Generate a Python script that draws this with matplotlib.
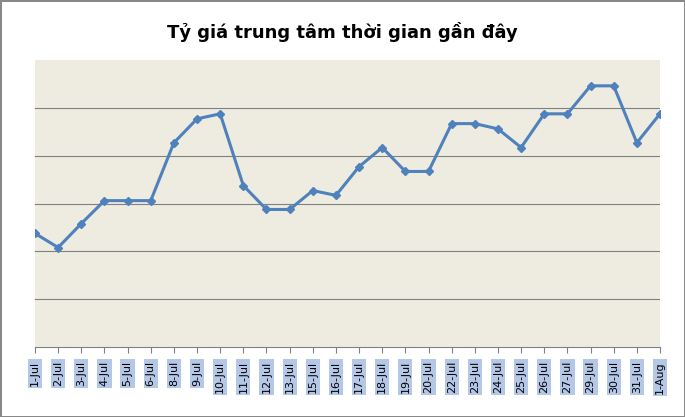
import matplotlib
matplotlib.use("Agg")
import matplotlib.pyplot as plt

dates = ["1-Jul","2-Jul","3-Jul","4-Jul","5-Jul","6-Jul","8-Jul","9-Jul","10-Jul","11-Jul",
         "12-Jul","13-Jul","15-Jul","16-Jul","17-Jul","18-Jul","19-Jul","20-Jul","22-Jul","23-Jul",
         "24-Jul","25-Jul","26-Jul","27-Jul","29-Jul","30-Jul","31-Jul","1-Aug"]
values = [2.375,2.08,2.58,3.06,3.06,3.06,4.27,4.77,4.875,3.375,
          2.875,2.875,3.27,3.17,3.77,4.17,3.67,3.67,4.67,4.67,
          4.56,4.17,4.875,4.875,5.46,5.46,4.27,4.875]

fig = plt.figure(figsize=(6.85,4.17), dpi=100)
fig.patch.set_edgecolor("#888888"); fig.patch.set_linewidth(2)
ax = fig.add_axes([35/685, 1-347/417, 625/685, 287/417])
ax.set_facecolor("#EEECE1")
x = list(range(len(dates)))
ax.plot(x, values, color="#4F81BD", lw=2.2, marker="D", ms=4.5)
ax.set_xlim(0, len(dates)-1)
ax.set_ylim(0, 6)
ax.set_yticks([1,2,3,4,5])
ax.set_yticklabels([])
ax.tick_params(axis="y", length=0)
ax.grid(axis="y", color="#808080", lw=0.8)
ax.set_axisbelow(True)
ax.set_xticks(x)
ax.set_xticklabels(dates, rotation=90, fontsize=8, family="DejaVu Sans")
ax.tick_params(axis="x", length=4, color="#808080", pad=6)
for t in ax.get_xticklabels():
    t.set_bbox(dict(facecolor="#B4C7E7", edgecolor="none", pad=1.5))
for s in ["top","right","left"]:
    ax.spines[s].set_visible(False)
ax.spines["bottom"].set_color("#808080")
fig.text(0.5, 1-32/417, "Tỷ giá trung tâm thời gian gần đây", ha="center", va="center",
         fontsize=13, fontweight="bold")
fig.savefig("out.png", dpi=100, edgecolor=fig.get_edgecolor())
